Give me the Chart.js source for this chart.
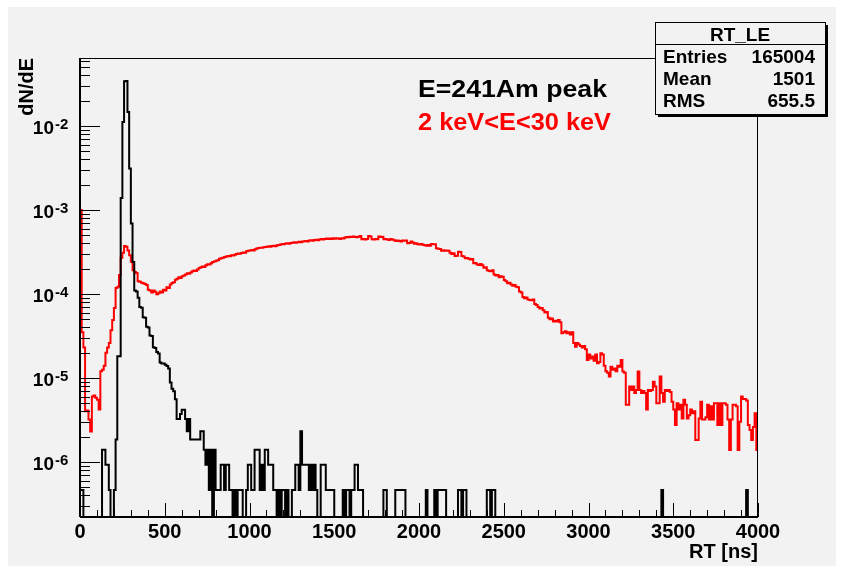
<!DOCTYPE html>
<html>
<head>
<meta charset="utf-8">
<script src="https://cdn.jsdelivr.net/npm/chart.js@4/dist/chart.umd.min.js"></script>
<style>
    html, body { margin: 0; padding: 0; background: #fff; }
    #wrap { width: 844px; height: 574px; }
</style>
</head>
<body>
<div id="wrap"><canvas id="rtChart" width="844" height="574"></canvas></div>
<script>
// histogram binning (ns)
const binWidth = 10;
const xMin = 0;
const xMax = 4000;
const yMin = 2.21e-7;
const yMax = 0.0645;

// 241Am peak: entries per 10 ns bin, one entry = countValue in dN/dE
const countValue = 4.64e-7;
const blackCounts = [
    1, 1, 0, 0, 0, 0, 0, 0, 0, 0, 0, 0, 0, 3, 3, 2, 2, 1, 0, 0,
    1, 4, 39, 39, 3000, 24100, 73300, 74000, 31700, 6700, 1490, 517, 237, 230, 194, 151, 148, 114, 112, 88,
    86, 69, 68, 50, 49, 44, 42, 33, 32, 32, 31, 30, 28, 19, 16, 15, 12, 7, 7, 8,
    9, 9, 7, 5, 7, 4, 4, 4, 4, 4, 4, 5, 5, 3, 2, 3, 1, 3, 0, 3,
    1, 1, 1, 2, 2, 1, 2, 2, 1, 1, 0, 1, 0, 1, 1, 1, 0, 0, 1, 2,
    2, 1, 1, 3, 3, 3, 1, 2, 1, 3, 3, 2, 2, 2, 1, 1, 0, 1, 0, 1,
    1, 0, 1, 0, 0, 1, 1, 2, 2, 1, 5, 2, 2, 2, 2, 1, 2, 1, 2, 1,
    0, 0, 2, 2, 2, 1, 1, 1, 1, 1, 0, 0, 0, 0, 0, 1, 0, 1, 1, 0,
    1, 1, 2, 2, 1, 1, 1, 0, 0, 0, 0, 0, 0, 0, 0, 0, 0, 0, 0, 1,
    1, 0, 0, 0, 0, 0, 1, 1, 1, 1, 1, 1, 0, 0, 0, 0, 0, 0, 0, 0,
    0, 0, 0, 0, 1, 0, 0, 0, 0, 1, 0, 1, 1, 1, 1, 1, 0, 0, 0, 0,
    0, 0, 0, 1, 1, 0, 1, 1, 0, 0, 0, 0, 0, 0, 0, 0, 0, 0, 0, 0,
    1, 1, 0, 1, 1, 0, 0, 0, 0, 0, 0, 0, 0, 0, 0, 0, 0, 0, 0, 0,
    0, 0, 0, 0, 0, 0, 0, 0, 0, 0, 0, 0, 0, 0, 0, 0, 0, 0, 0, 0,
    0, 0, 0, 0, 0, 0, 0, 0, 0, 0, 0, 0, 0, 0, 0, 0, 0, 0, 0, 0,
    0, 0, 0, 0, 0, 0, 0, 0, 0, 0, 0, 0, 0, 0, 0, 0, 0, 0, 0, 0,
    0, 0, 0, 0, 0, 0, 0, 0, 0, 0, 0, 0, 0, 0, 0, 0, 0, 0, 0, 0,
    0, 0, 0, 1, 0, 0, 0, 0, 0, 0, 0, 0, 0, 0, 0, 0, 0, 0, 0, 0,
    0, 0, 0, 0, 0, 0, 0, 0, 0, 0, 0, 0, 0, 0, 0, 0, 0, 0, 0, 0,
    0, 0, 0, 0, 0, 0, 0, 0, 0, 0, 0, 0, 0, 1, 0, 0, 0, 0, 0, 0
];

// 2 keV<E<30 keV: dN/dE per 10 ns bin, in units of 1e-6
const redUnit = 1e-6;
const redValues = [
    1000, 35, 23, 4.0, 4.1, 3.2, 2.3, 6.0, 6.2, 5.8,
    5.5, 4.2, 12, 12.5, 14, 20, 23, 26, 37, 49,
    68, 118, 122, 168, 270, 310, 372, 365, 330, 290,
    242, 192, 182, 178, 142, 140, 136, 134, 131, 128,
    112, 110, 104, 110, 106, 99, 102, 107, 104, 112,
    110, 120, 118, 130, 135, 138, 148, 152, 158, 155,
    162, 166, 170, 176, 174, 180, 186, 190, 188, 196,
    204, 208, 212, 210, 220, 226, 224, 232, 240, 244,
    248, 252, 262, 266, 270, 276, 280, 284, 282, 290,
    288, 294, 300, 304, 302, 308, 312, 310, 322, 326,
    330, 334, 330, 340, 348, 352, 356, 354, 360, 362,
    366, 370, 364, 372, 376, 370, 380, 384, 388, 394,
    390, 398, 402, 396, 404, 408, 412, 406, 414, 418,
    412, 420, 424, 428, 422, 432, 436, 430, 438, 442,
    436, 446, 450, 444, 452, 456, 450, 458, 452, 460,
    455, 462, 458, 450, 460, 456, 470, 478, 474, 480,
    476, 482, 478, 474, 480, 490, 448, 452, 446, 450,
    490, 484, 448, 446, 452, 448, 482, 478, 480, 448,
    452, 446, 440, 450, 444, 436, 428, 432, 426, 420,
    432, 430, 434, 401, 404, 420, 410, 396, 402, 392,
    388, 394, 386, 380, 376, 383, 375, 394, 390, 392,
    350, 345, 342, 328, 332, 326, 330, 328, 310, 300,
    305, 283, 286, 319, 316, 283, 280, 266, 268, 262,
    258, 260, 232, 234, 225, 222, 228, 220, 205, 208,
    192, 188, 186, 192, 170, 166, 168, 158, 162, 160,
    147, 142, 134, 136, 130, 125, 128, 122, 120, 107,
    104, 92, 89, 91, 86, 85, 84, 86, 76, 74,
    70, 67, 68, 64, 60, 61, 52, 50, 51, 47,
    48, 47, 49, 46, 34, 35, 36, 34, 35, 33,
    35, 26, 23.6, 26, 25, 24, 23, 24, 22, 16.4,
    19, 17, 18, 16, 19, 15, 15.5, 19.7, 19, 14,
    12, 11.5, 10.4, 13.6, 12.5, 13, 12, 14, 13.6, 16.4,
    11.9, 11.5, 4.8, 4.8, 7.9, 7.2, 7.9, 6.6, 7.2, 11.9,
    7.2, 6.6, 7.0, 6.6, 4.2, 7.2, 7.0, 7.2, 9.0, 7.9,
    5.0, 5.0, 10.4, 6.6, 5.2, 7.2, 7.0, 7.2, 6.8, 5.2,
    4.2, 2.75, 5.0, 4.2, 4.8, 3.3, 5.5, 4.8, 3.3, 3.6,
    4.2, 3.8, 4.0, 1.83, 1.83, 3.3, 5.2, 3.2, 3.2, 3.4,
    4.8, 3.2, 4.6, 3.2, 5.0, 5.0, 2.75, 5.0, 2.75, 5.0,
    5.0, 4.8, 3.2, 1.39, 3.2, 4.8, 4.8, 4.6, 1.39, 3.0,
    6.0, 5.6, 5.6, 5.4, 2.75, 2.4, 1.83, 2.6, 3.8, 1.39
];

// axes
const xTicks = [0, 500, 1000, 1500, 2000, 2500, 3000, 3500, 4000];
const xMinorStep = 100;
const yDecades = [-6, -5, -4, -3, -2];
const xTitle = 'RT [ns]';
const yTitle = 'dN/dE';

// texts
const peakLabel = 'E=241Am peak';
const rangeLabel = '2 keV<E<30 keV';
const statsTitle = 'RT_LE';
const statsRows = [['Entries', '165004'], ['Mean', '1501'], ['RMS', '655.5']];

const FONT = '"Liberation Sans", Arial, Helvetica, sans-serif';
const EMPTY = 1e-12; // empty bins fall below the frame like in ROOT

function toSteps(values) {
    const pts = values.map((v, i) => ({ x: xMin + i * binWidth, y: v > 0 ? v : EMPTY }));
    pts.push({ x: xMin + values.length * binWidth, y: pts[pts.length - 1].y });
    return pts;
}

function line(ctx, x1, y1, x2, y2) {
    ctx.beginPath();
    ctx.moveTo(x1, y1);
    ctx.lineTo(x2, y2);
    ctx.stroke();
}

// ROOT's Helvetica runs a bit wider than Liberation, so stretch to the target width
function wideText(ctx, text, x, y, width) {
    const w = ctx.measureText(text).width;
    ctx.save();
    ctx.translate(x, y);
    ctx.scale(width / w, 1);
    ctx.fillText(text, 0, 0);
    ctx.restore();
}

const rootStyle = {
    id: 'rootStyle',
    beforeDraw(chart) {
        const ctx = chart.ctx;
        ctx.save();
        ctx.fillStyle = '#ffffff';
        ctx.fillRect(0, 0, chart.width, chart.height);
        ctx.fillStyle = '#f2f2f2';
        ctx.fillRect(8, 7, 828, 559);
        ctx.restore();
    },
    afterDraw(chart) {
        const ctx = chart.ctx;
        const a = chart.chartArea;
        const xs = chart.scales.x;
        const ys = chart.scales.y;
        ctx.save();
        ctx.strokeStyle = '#000';
        ctx.fillStyle = '#000';

        // frame
        ctx.lineWidth = 1;
        ctx.strokeRect(a.left + 0.5, a.top + 0.5, a.right - a.left - 1, a.bottom - a.top);
        ctx.lineWidth = 2;
        line(ctx, a.left, a.bottom, a.right, a.bottom);
        line(ctx, a.left, a.top, a.left, a.bottom);

        // x ticks (inward)
        ctx.lineWidth = 1;
        for (let v = xMin; v <= xMax; v += xMinorStep) {
            const px = Math.round(xs.getPixelForValue(v)) + 0.5;
            const len = xTicks.includes(v) ? 14 : 7;
            line(ctx, px, a.bottom, px, a.bottom - len);
        }
        // y ticks (inward)
        for (let d = -8; d <= 0; d++) {
            for (let m = 1; m <= 9; m++) {
                const v = m * Math.pow(10, d);
                if (v < yMin || v > yMax) continue;
                const py = Math.round(ys.getPixelForValue(v)) + 0.5;
                line(ctx, a.left, py, a.left + (m === 1 ? 20 : 10), py);
            }
        }

        // x labels
        ctx.font = 'bold 20px ' + FONT;
        ctx.textAlign = 'center';
        ctx.textBaseline = 'alphabetic';
        xTicks.forEach(v => ctx.fillText(String(v), xs.getPixelForValue(v), 538));

        // y labels 10^k
        yDecades.forEach(d => {
            const py = ys.getPixelForValue(Math.pow(10, d));
            ctx.font = 'bold 19px ' + FONT;
            ctx.textAlign = 'right';
            ctx.fillText('10', 54, py + 8);
            ctx.font = 'bold 15px ' + FONT;
            ctx.textAlign = 'left';
            ctx.fillText(String(d), 55, py + 3);
        });

        // axis titles
        ctx.font = 'bold 20px ' + FONT;
        ctx.textAlign = 'right';
        ctx.fillText(xTitle, a.right, 558);
        ctx.save();
        ctx.translate(33, a.top);
        ctx.rotate(-Math.PI / 2);
        ctx.textAlign = 'right';
        ctx.fillText(yTitle, 0, 0);
        ctx.restore();

        // labels
        ctx.font = 'bold 23px ' + FONT;
        ctx.textAlign = 'left';
        ctx.fillStyle = '#000';
        wideText(ctx, peakLabel, 418, 97, 189);
        ctx.fillStyle = '#ff0000';
        wideText(ctx, rangeLabel, 418, 130, 193);

        // stats box
        const bx = 655, by = 22, bw = 170, bh = 92;
        ctx.fillStyle = '#000';
        ctx.fillRect(bx + bw, by + 3, 3, bh);
        ctx.fillRect(bx + 3, by + bh, bw, 3);
        ctx.fillStyle = '#f2f2f2';
        ctx.fillRect(bx, by, bw, bh);
        ctx.lineWidth = 1;
        ctx.strokeRect(bx + 0.5, by + 0.5, bw, bh);
        line(ctx, bx, by + 22.5, bx + bw, by + 22.5);
        ctx.fillStyle = '#000';
        ctx.font = 'bold 19px ' + FONT;
        ctx.textAlign = 'center';
        ctx.fillText(statsTitle, bx + bw / 2, by + 19);
        statsRows.forEach((r, i) => {
            const yb = by + 41 + i * 22;
            ctx.textAlign = 'left';
            ctx.fillText(r[0], bx + 8, yb);
            ctx.textAlign = 'right';
            ctx.fillText(r[1], bx + bw - 10, yb);
        });
        ctx.restore();
    }
};

const chart = new Chart(document.getElementById('rtChart'), {
    type: 'line',
    data: {
        datasets: [
            {
                label: peakLabel,
                data: toSteps(blackCounts.map(n => n * countValue)),
                borderColor: '#000000',
                borderWidth: 2,
                stepped: 'before',
                pointRadius: 0,
                fill: false
            },
            {
                label: rangeLabel,
                data: toSteps(redValues.map(v => v * redUnit)),
                borderColor: '#ff0000',
                borderWidth: 2,
                stepped: 'before',
                pointRadius: 0,
                fill: false
            }
        ]
    },
    options: {
        responsive: false,
        animation: false,
        devicePixelRatio: 1,
        events: [],
        layout: { padding: { left: 80, right: 86, top: 58, bottom: 57 } },
        scales: {
            x: { type: 'linear', min: xMin, max: xMax, display: false },
            y: { type: 'logarithmic', min: yMin, max: yMax, display: false }
        },
        plugins: {
            legend: { display: false },
            tooltip: { enabled: false }
        }
    },
    plugins: [rootStyle]
});
</script>
</body>
</html>
